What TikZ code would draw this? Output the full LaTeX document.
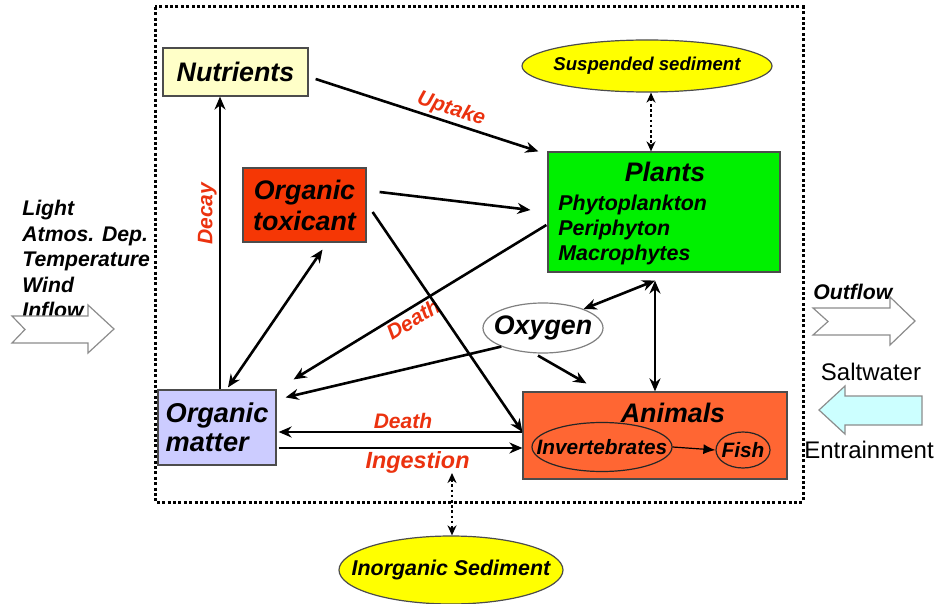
\documentclass[tikz,border=0pt]{standalone}
\usepackage{fontspec}
\setmainfont{Liberation Sans}
\usetikzlibrary{arrows.meta, shapes.geometric, positioning}
\definecolor{nutfill}{RGB}{255,255,200}
\definecolor{sedfill}{RGB}{255,255,0}
\definecolor{plfill}{RGB}{0,240,0}
\definecolor{toxfill}{RGB}{245,55,5}
\definecolor{omfill}{RGB}{204,204,255}
\definecolor{anfill}{RGB}{255,102,51}
\definecolor{entfill}{RGB}{204,255,255}
\definecolor{lblred}{RGB}{235,50,15}
\newcommand{\boldit}{\bfseries\itshape}

\begin{document}
\begin{tikzpicture}[x=0.5pt, y=-0.5pt,
  box/.style={draw=black!70, line width=0.6pt, inner sep=0pt, align=center},
  oval/.style={ellipse, draw=black!70, line width=0.6pt, inner ysep=0pt},
  bigtxt/.style={font=\boldit\fontsize{13.4}{15.5}\selectfont},
  midtxt/.style={font=\boldit\fontsize{10.6}{12.75}\selectfont},
  redlbl/.style={text=lblred, inner sep=1pt, font=\boldit\fontsize{10.5}{12}\selectfont},
  arr/.style={-{Stealth[length=6.5pt,width=5.5pt]}, line width=1.3pt},
  arrin/.style={{Stealth[length=6.5pt,width=5.5pt]}-, line width=1.3pt},
  dblarr/.style={{Stealth[length=6.5pt,width=5.5pt]}-{Stealth[length=6.5pt,width=5.5pt]}, line width=1.3pt},
  dotarr/.style={{Stealth[length=5pt,width=4.5pt]}-{Stealth[length=5pt,width=4.5pt]}, line width=1.3pt, dash pattern=on 1.3pt off 1.3pt},
  bigarrow/.style={draw=black!45, line width=0.6pt}]
\useasboundingbox (0,0) rectangle (937,604);

% system boundary
\draw[line width=1.5pt, dash pattern=on 1.5pt off 1.2pt] (155,7) rectangle (803,502);

\node (Nut) [box, fill=nutfill, minimum width=72.5pt, minimum height=24pt, bigtxt] at (235.5,72) {Nutrients};
\node (Sus) [oval, fill=sedfill, minimum width=125pt, minimum height=26pt, inner xsep=-4pt, font=\boldit\fontsize{9.3}{11}\selectfont] at (647,66) {Suspended sediment};
\node (Pl) [box, fill=plfill, minimum width=116pt, minimum height=60pt] at (664,212) {};
\node (PlT) [bigtxt] at (665,172) {Plants};
\node (PlL) [anchor=north west, inner sep=0pt, align=left, font=\boldit\fontsize{10.7}{12.5}\selectfont] at (558,195) {Phytoplankton\\Periphyton\\Macrophytes};
\node (Tox) [box, fill=toxfill, minimum width=61.5pt, minimum height=37pt, bigtxt] at (304.5,205) {Organic\\toxicant};
\node (OM) [box, fill=omfill, minimum width=59pt, minimum height=37.5pt, align=left, font=\boldit\fontsize{13.6}{14.5}\selectfont] at (217,427.5) {Organic\\matter};
\node (Ox) [oval, fill=white, draw=black!50, minimum width=60pt, minimum height=25pt, inner xsep=-5pt, bigtxt] at (543,328) {Oxygen};
\node (An) [box, fill=anfill, minimum width=132pt, minimum height=43.5pt] at (655,435.5) {};
\node (AnT) [bigtxt] at (673,413) {Animals};
\node (Inv) [oval, draw=black!85, minimum width=70pt, minimum height=24.5pt, inner xsep=-10pt, font=\boldit\fontsize{10.4}{12}\selectfont] at (602,447) {Invertebrates};
\node (Fi) [oval, draw=black!85, minimum width=27pt, minimum height=18pt, inner xsep=-2pt, font=\boldit\fontsize{10.4}{12}\selectfont] at (743,450) {Fish};
\node (Inorg) [oval, fill=sedfill, minimum width=112pt, minimum height=34pt, inner xsep=-12pt, font=\boldit\fontsize{10.7}{12}\selectfont] at (451,570) {Inorganic Sediment};

% outside the system
\node (Drv) [anchor=north west, inner sep=0pt, align=left, midtxt] at (22,200) {Light\\Atmos. Dep.\\Temperature\\Wind\\Inflow};
\node (Out) [anchor=west, inner sep=0pt, midtxt] at (813,292) {Outflow};
\node (Salt) [font=\fontsize{12}{14}\selectfont] at (871,372) {Saltwater};
\node (Ent) [font=\fontsize{12}{14}\selectfont] at (869,450) {Entrainment};

\draw[bigarrow, fill=white] (12,316) -- (88,316) -- (88,305) -- (114,329) -- (88,353) -- (88,343) -- (12,343) -- (25,329.5) -- cycle;
\draw[bigarrow, fill=white] (813,308) -- (890,308) -- (890,297) -- (915,321) -- (890,345) -- (890,335) -- (813,335) -- (828,321.5) -- cycle;
\draw[bigarrow, fill=entfill] (922,396) -- (845,396) -- (845,386) -- (819,410) -- (845,434) -- (845,425) -- (922,425) -- cycle;

% flows
\draw[arr] ([shift={(7,7)}]Nut.east) -- node[redlbl, sloped, above, pos=0.59] {Uptake} ([shift={(-9,0)}]Pl.north west);
\draw[dotarr] ([shift={(4,0)}]Sus.south) -- ([shift={(-13,0)}]Pl.north);
\draw[arr] ([shift={(13,-13)}]Tox.east) -- ([shift={(-17,-2)}]Pl.west);
\draw[arr] ([shift={(3,0)}]OM.north) -- node[redlbl, sloped, above, pos=0.6] {Decay} ([shift={(-15.5,0)}]Nut.south);
\draw[dblarr] ([shift={(18,7)}]Tox.south) -- ([shift={(11,-2)}]OM.north);
\draw[arrin] ([shift={(17,-10)}]OM.north east) -- node[redlbl, sloped, below, pos=0.45] {Death} ([shift={(-1,13)}]Pl.west);
\draw[arr] ([shift={(6,7)}]Tox.east) -- ([shift={(0,-3.5)}]An.west);
\coordinate (fork) at ([shift={(-9,8)}]Pl.south);
\draw[dblarr] (fork) -- (Ox.25);
\draw[dblarr] (fork) -- (fork |- An.north);
\draw[arr] (Ox.204) -- ([shift={(9,8)}]OM.north east);
\draw[arr] ([shift={(-5,2)}]Ox.south) -- ([shift={(64,-8)}]An.north west);
\draw[arr] ([shift={(0,-3.5)}]An.west) -- node[redlbl, above, pos=0.49] {Death} ([shift={(2,4.5)}]OM.east);
\draw[arr] ([shift={(2,20.5)}]OM.east) -- node[redlbl, below, pos=0.57, font=\boldit\fontsize{11.7}{13}\selectfont] {Ingestion} ([shift={(0,12.5)}]An.west);
\draw[-{Latex[length=6pt,width=5pt]}, line width=0.6pt] (Inv.east) -- (Fi.west);
\coordinate (IngTip) at (452,473);
\draw[dotarr] (IngTip) -- (Inorg.north -| IngTip);
\end{tikzpicture}
\end{document}
